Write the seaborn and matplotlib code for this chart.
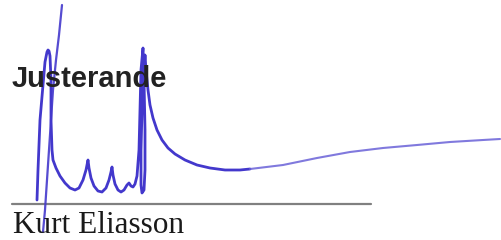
import matplotlib
matplotlib.use('Agg')
import matplotlib.pyplot as plt
import seaborn as sns
import pandas as pd

sns.set_style('white')

# signature strokes, in picture pixel coordinates (x right, y down)
stroke_top_x = [62, 59, 56, 53, 51, 49, 47, 45, 43]
stroke_top_y = [5, 35, 60, 90, 120, 150, 180, 210, 232]

scribble_x = [37, 38, 40, 43, 45, 47, 48, 49, 50, 51, 51, 52, 53, 56, 60, 65, 70,
              75, 79, 83, 86, 88, 89, 91, 94, 98, 102, 106, 109, 111, 112, 113,
              115, 118, 121, 124, 127, 129, 131, 133, 135, 137, 139, 140, 141, 143,
              144, 145, 145, 144, 142, 141, 141, 142, 144, 145, 146, 148, 150, 153,
              157, 162, 168, 175, 185, 197, 210, 225, 240, 250]
scribble_y = [200, 170, 120, 85, 62, 52, 50, 51, 56, 80, 120, 150, 160, 168, 176,
              183, 188, 190, 188, 180, 170, 160, 168, 178, 186, 191, 192, 188, 180,
              172, 167, 175, 184, 190, 192, 190, 185, 183, 186, 187, 184, 176, 150,
              110, 70, 48, 80, 130, 170, 190, 193, 185, 150, 110, 70, 55, 70, 90,
              105, 118, 130, 140, 148, 154, 160, 165, 168, 170, 170, 169]

tail_x = [250, 283, 317, 350, 383, 417, 450, 483, 500]
tail_y = [169, 165, 158, 152, 148, 145, 142, 140, 139]

rule_x = [12, 371]
rule_y = [204, 204]

heading = 'Justerande'
name = 'Kurt Eliasson'

ink = '#4338cc'

fig = plt.figure(figsize=(5.01, 2.40), dpi=100)
ax = fig.add_axes([0, 0, 1, 1])

sns.lineplot(x=rule_x, y=rule_y, ax=ax, color='#808080', linewidth=1.6,
             sort=False, estimator=None)

ax.text(12, 87, heading, fontsize=21, fontweight='bold',
        family='Liberation Sans', color='#222222', va='baseline', ha='left')
ax.text(13, 233, name, fontsize=22.5, family='Liberation Serif',
        color='#1a1a1a', va='baseline', ha='left')

top = pd.DataFrame({'x': stroke_top_x, 'y': stroke_top_y})
main = pd.DataFrame({'x': scribble_x, 'y': scribble_y})
tail = pd.DataFrame({'x': tail_x, 'y': tail_y})

sns.lineplot(data=top, x='x', y='y', ax=ax, color=ink, linewidth=1.6,
             sort=False, estimator=None, alpha=0.9)
sns.lineplot(data=main, x='x', y='y', ax=ax, color=ink, linewidth=2.0,
             sort=False, estimator=None)
sns.lineplot(data=tail, x='x', y='y', ax=ax, color='#6a62d8', linewidth=1.5,
             sort=False, estimator=None, alpha=0.85)

ax.set_xlim(0, 501)
ax.set_ylim(240, 0)
ax.axis('off')

fig.savefig('out.png', dpi=100)
